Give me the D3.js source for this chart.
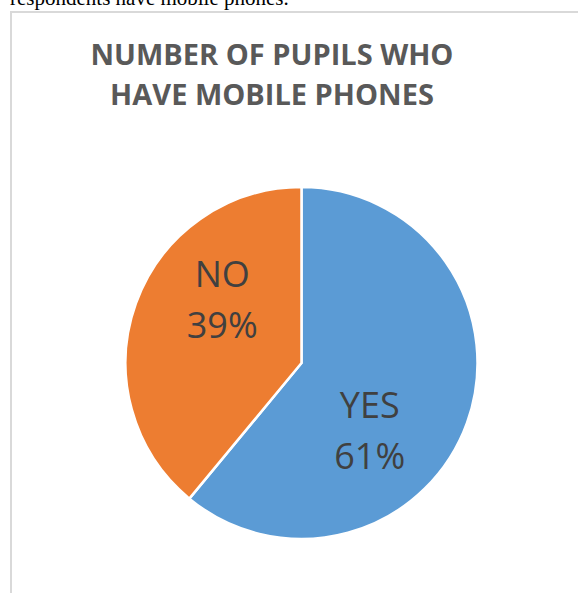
<!DOCTYPE html>
<html><head><meta charset="utf-8">
<script src="https://cdn.jsdelivr.net/npm/d3@7"></script>
<style>
html,body{margin:0;padding:0;background:#fff;overflow:hidden;}
svg{display:block;}
</style></head>
<body>
<svg id="chart" width="578" height="593"></svg>
<script>
const categories = ["YES", "NO"];
const values = [61, 39];
const percentLabels = ["61%", "39%"];
const titleLines = ["NUMBER OF PUPILS WHO", "HAVE MOBILE PHONES"];
const captionText = "respondents have mobile phones.";
const colors = ["#5B9BD5", "#ED7D31"];

const svg = d3.select("#chart");

// caption text cut at top (as in the reference)
svg.append("text").attr("x", 10).attr("y", 5)
  .attr("font-family", "'Liberation Serif','Times New Roman',serif")
  .attr("font-size", 21).attr("fill", "#000").text(captionText);

// chart frame
svg.append("rect").attr("x", 11).attr("y", 12).attr("width", 600).attr("height", 620)
  .attr("fill", "#fff").attr("stroke", "#d9d9d9").attr("stroke-width", 2);

// title
svg.append("g").selectAll("text").data(titleLines).join("text")
  .attr("x", 272).attr("y", (d, i) => 65 + i * 40)
  .attr("text-anchor", "middle")
  .attr("font-family", "'Open Sans',sans-serif").attr("font-weight", 700)
  .attr("font-size", 29).attr("fill", "#595959").text(d => d);

const cx = 301.5, cy = 363, r = 176;
const pie = d3.pie().sort(null).value(d => d)(values);
const arc = d3.arc().innerRadius(0).outerRadius(r);
const g = svg.append("g").attr("transform", `translate(${cx},${cy})`);
g.selectAll("path").data(pie).join("path")
  .attr("d", arc).attr("fill", (d, i) => colors[i])
  .attr("stroke", "#fff").attr("stroke-width", 2.5).attr("stroke-linejoin", "round");

const labelR = [92, 105];
const angleShift = [0.39, 0.37];
const lbl = g.selectAll("g.lbl").data(pie).join("g").attr("class", "lbl")
  .attr("transform", (d, i) => {
    const a = (d.startAngle + d.endAngle) / 2 + angleShift[i];
    return `translate(${labelR[i] * Math.sin(a)},${-labelR[i] * Math.cos(a)})`;
  });
lbl.append("text").attr("text-anchor", "middle").attr("y", -7)
  .attr("font-family", "'Open Sans',sans-serif").attr("font-size", 36).attr("fill", "#404040")
  .text((d, i) => categories[i]);
lbl.append("text").attr("text-anchor", "middle").attr("y", 44)
  .attr("font-family", "'Open Sans',sans-serif").attr("font-size", 36).attr("fill", "#404040")
  .text((d, i) => percentLabels[i]);
</script>
</body></html>
